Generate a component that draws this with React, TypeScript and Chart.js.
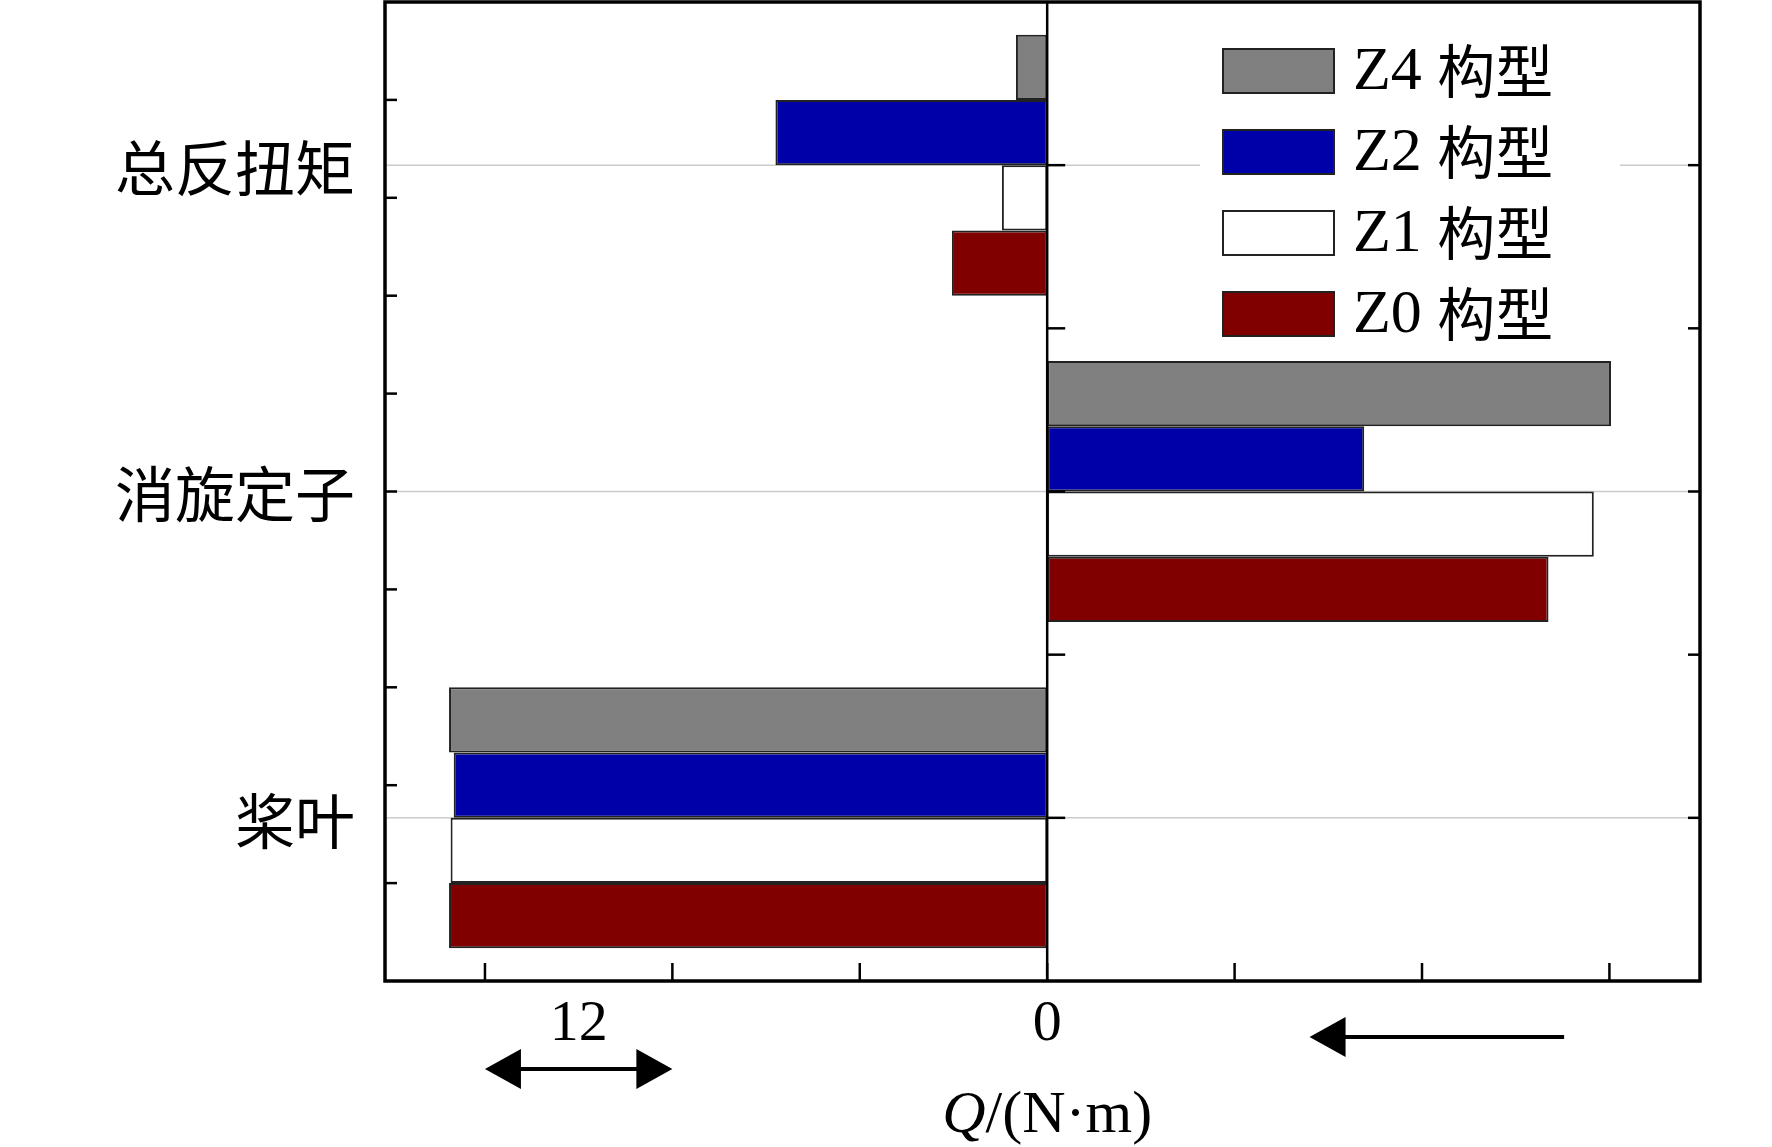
import React, { useEffect, useRef } from "react";
import { Chart, registerables } from "chart.js";
Chart.register(...registerables);

const categories = ["总反扭矩", "消旋定子", "桨叶"];
const seriesNames = ["Z4 构型", "Z2 构型", "Z1 构型", "Z0 构型"];
const seriesColors = ["#808080", "#0000a8", "#ffffff", "#800000"];
const z4 = [-2.0, 36.1, -38.3];
const z2 = [-17.4, 20.3, -38.0];
const z1 = [-2.9, 35.0, -38.2];
const z0 = [-6.1, 32.1, -38.3];
const xTicks = [-36, -24, -12, 0, 12, 24, 36];
const leftTicks = [-0.2, 0.1, 0.4, 0.7, 1.0, 1.3, 1.6, 1.9, 2.2];
const rightTicks = [0, 0.5, 1, 1.5, 2];
const SERIF = "'Liberation Serif', 'Times New Roman', serif";
const CJK = "'Noto Sans CJK SC', sans-serif";

export default function App() {
  const ref = useRef<HTMLCanvasElement>(null);
  useEffect(() => {
    document.body.style.margin = "0";
    const series = [z4, z2, z1, z0];
    const arrow = (ctx: any, x1: number, y: number, dir: number) => {
      ctx.beginPath();
      ctx.moveTo(x1, y);
      ctx.lineTo(x1 + dir * 36, y - 20);
      ctx.lineTo(x1 + dir * 36, y + 20);
      ctx.closePath();
      ctx.fill();
    };
    const plugin = {
      id: "deco",
      beforeDatasetsDraw(chart: any) {
        const ctx = chart.ctx, a = chart.chartArea, ys = chart.scales.y;
        ctx.save();
        ctx.strokeStyle = "#cccccc";
        ctx.lineWidth = 1.5;
        for (let i = 0; i < categories.length; i++) {
          const y = ys.getPixelForValue(i);
          ctx.beginPath(); ctx.moveTo(a.left, y); ctx.lineTo(a.right, y); ctx.stroke();
        }
        ctx.restore();
      },
      afterDatasetsDraw(chart: any) {
        const ctx = chart.ctx, a = chart.chartArea, xs = chart.scales.x, ys = chart.scales.y;
        ctx.save();
        ctx.strokeStyle = "#000"; ctx.fillStyle = "#000";
        const x0 = xs.getPixelForValue(0);
        ctx.lineWidth = 2.5;
        ctx.beginPath(); ctx.moveTo(x0, a.top); ctx.lineTo(x0, a.bottom); ctx.stroke();
        // legend
        const lx = 1223, lw = 111, lh = 44, rowH = 81, ly0 = 71;
        ctx.fillStyle = "#fff";
        ctx.fillRect(1200, 20, 420, 330);
        for (let i = 0; i < seriesNames.length; i++) {
          const cy = ly0 + i * rowH;
          ctx.fillStyle = seriesColors[i];
          ctx.fillRect(lx, cy - lh / 2, lw, lh);
          ctx.lineWidth = 2; ctx.strokeStyle = "#222";
          ctx.strokeRect(lx, cy - lh / 2, lw, lh);
          ctx.fillStyle = "#000";
          ctx.textBaseline = "middle"; ctx.textAlign = "left";
          const [code, cn] = seriesNames[i].split(" ");
          ctx.font = `62px ${SERIF}`;
          ctx.fillText(code, 1353, cy + 2);
          const w = ctx.measureText(code + " ").width;
          ctx.font = `58px ${CJK}`;
          ctx.fillText(cn, 1353 + w, cy);
        }
        // frame
        ctx.strokeStyle = "#000"; ctx.lineWidth = 3.5;
        ctx.strokeRect(a.left, a.top, a.right - a.left, a.bottom - a.top);
        ctx.lineWidth = 2.5;
        for (const v of xTicks) {
          const x = xs.getPixelForValue(v);
          ctx.beginPath(); ctx.moveTo(x, a.bottom); ctx.lineTo(x, a.bottom - 18); ctx.stroke();
        }
        for (const v of leftTicks) {
          const y = ys.getPixelForValue(v);
          ctx.beginPath(); ctx.moveTo(a.left, y); ctx.lineTo(a.left + 12, y); ctx.stroke();
        }
        for (const v of rightTicks) {
          const y = ys.getPixelForValue(v);
          ctx.beginPath(); ctx.moveTo(a.right, y); ctx.lineTo(a.right - 12, y); ctx.stroke();
          ctx.beginPath(); ctx.moveTo(x0, y); ctx.lineTo(x0 + 18, y); ctx.stroke();
        }
        // category labels
        ctx.fillStyle = "#000";
        ctx.font = `60px ${CJK}`;
        ctx.textAlign = "right"; ctx.textBaseline = "middle";
        categories.forEach((c, i) => ctx.fillText(c, 355, ys.getPixelForValue(i) + 3));
        // tick labels
        ctx.font = `58px ${SERIF}`;
        ctx.textAlign = "center";
        ctx.fillText("12", xs.getPixelForValue(-30), 1025);
        ctx.fillText("0", x0, 1025);
        // double arrow
        const xa = xs.getPixelForValue(-36), xb = xs.getPixelForValue(-24), ya = 1069;
        ctx.lineWidth = 4;
        ctx.beginPath(); ctx.moveTo(xa + 30, ya); ctx.lineTo(xb - 30, ya); ctx.stroke();
        arrow(ctx, xa, ya, 1); arrow(ctx, xb, ya, -1);
        // left arrow
        const xc = xs.getPixelForValue(16.8), xd = xs.getPixelForValue(33.1), yb = 1037;
        ctx.beginPath(); ctx.moveTo(xc + 30, yb); ctx.lineTo(xd, yb); ctx.stroke();
        arrow(ctx, xc, yb, 1);
        // axis title
        ctx.textAlign = "left";
        ctx.font = `italic 60px ${SERIF}`;
        const t1 = "Q", t2 = "/(N·m)";
        const w1 = ctx.measureText(t1).width;
        ctx.font = `60px ${SERIF}`;
        const w2 = ctx.measureText(t2).width;
        const sx = x0 - (w1 + w2) / 2;
        ctx.font = `italic 60px ${SERIF}`;
        ctx.fillText(t1, sx, 1116);
        ctx.font = `60px ${SERIF}`;
        ctx.fillText(t2, sx + w1, 1116);
        ctx.restore();
      },
    };
    const chart = new Chart(ref.current!, {
      type: "bar",
      data: {
        labels: categories,
        datasets: series.map((d, i) => ({
          label: seriesNames[i],
          data: d,
          backgroundColor: seriesColors[i],
          borderColor: "#222",
          borderWidth: 2,
          borderSkipped: false,
          barPercentage: 1,
          categoryPercentage: 0.8,
        })),
      },
      options: {
        indexAxis: "y",
        animation: false,
        responsive: false,
        maintainAspectRatio: false,
        layout: { padding: { left: 385, right: 72, top: 2, bottom: 166 } },
        plugins: { legend: { display: false }, tooltip: { enabled: false } },
        scales: {
          x: { min: -42.4, max: 41.8, display: false },
          y: { display: false, offset: true },
        },
      },
      plugins: [plugin],
    } as any);
    return () => chart.destroy();
  }, []);
  return <canvas ref={ref} width={1772} height={1147} style={{ display: "block" }} />;
}
